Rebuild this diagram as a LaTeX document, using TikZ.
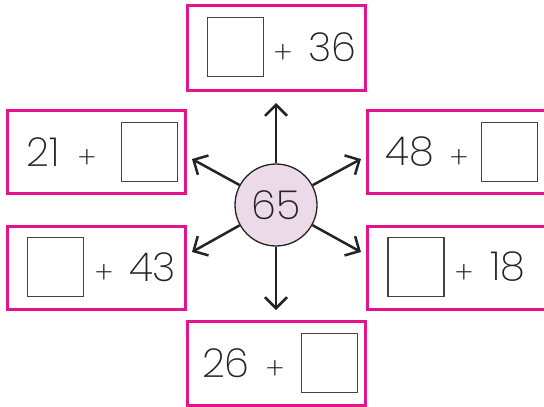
\documentclass[tikz,border=0pt]{standalone}
\usepackage{fontspec}
\setmainfont{Poppins ExtraLight}
\usetikzlibrary{arrows.meta}
\definecolor{frmpink}{RGB}{230,20,140}
\definecolor{hubfill}{RGB}{236,218,232}
\definecolor{ink}{RGB}{35,35,35}
\begin{document}
\begin{tikzpicture}[
  x=1pt, y=-1pt,
  frm/.style={rectangle, draw=frmpink, line width=3pt, minimum width=178pt,
    minimum height=83pt, inner sep=0pt},
  sq/.style={rectangle, draw=ink!85, line width=1.3pt, minimum width=56pt,
    minimum height=59pt, inner sep=0pt},
  num/.style={inner sep=0pt, text=ink, font=\fontsize{40}{48}\selectfont},
  pl/.style={inner sep=0pt, text=ink, font=\fontsize{30}{36}\selectfont},
  hub/.style={circle, draw=ink, line width=1.3pt, fill=hubfill, minimum size=82pt,
    inner sep=0pt, text=ink, font=\fontsize{40}{48}\selectfont},
  a/.style={line width=2.5pt, draw=ink, -{Straight Barb[length=11pt,width=22pt]}}
]
\useasboundingbox (0,0) rectangle (544,407);
% frames
\node[frm, minimum height=85pt] (ft) at (276,47.5) {};
\node[frm] (flu) at (96,151.5) {};
\node[frm] (fru) at (456,152) {};
\node[frm] (fll) at (96,267.5) {};
\node[frm] (frl) at (456,267.5) {};
\node[frm, minimum height=84pt] (fb) at (276,363) {};
% blanks
\node[sq] (st) at (235.5,47) {};
\node[sq] (slu) at (149.5,152) {};
\node[sq] (sru) at (509.5,152) {};
\node[sq] (sll) at (55.5,267) {};
\node[sq] (srl) at (416,267) {};
\node[sq] (sb) at (329.5,363) {};
% numbers and plus signs
\node[pl] (pt) at (283,54) {+};
\node[num] (nt) at (332.5,47.5) {36};
\node[num] (nlu) at (43.5,152) {21};
\node[pl] (plu) at (87,159) {+};
\node[num] (nru) at (409.5,152) {48};
\node[pl] (pru) at (459,159) {+};
\node[pl] (pll) at (104,274) {+};
\node[num] (nll) at (152.5,267) {43};
\node[pl] (prl) at (464,274) {+};
\node[num] (nrl) at (507.5,267) {18};
\node[num] (nb) at (226,363) {26};
\node[pl] (pb) at (275,370) {+};
% centre and arrows
\node[hub] (sum) at (276,205) {65};
\coordinate (tu) at (276,103);
\coordinate (td) at (276,310);
\coordinate (tul) at (192,159);
\coordinate (tur) at (361,159);
\coordinate (tll) at (192,252);
\coordinate (tlr) at (361,252);
\foreach \t in {tu,td,tul,tur,tll,tlr}
  \draw[a] (sum) -- (\t);
\end{tikzpicture}
\end{document}
